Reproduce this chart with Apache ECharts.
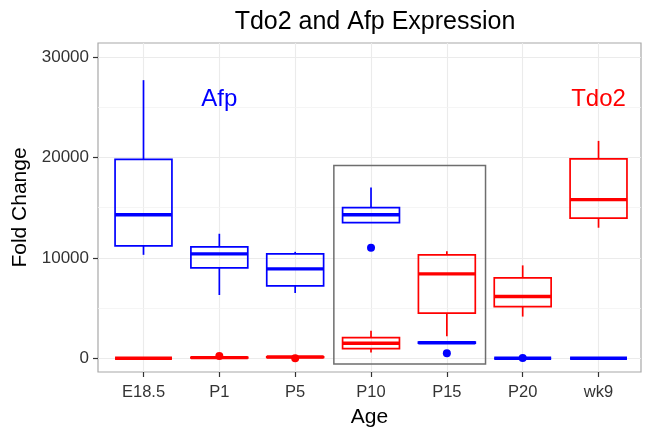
<!DOCTYPE html>
<html>
<head>
<meta charset="utf-8">
<script src="https://cdn.jsdelivr.net/npm/echarts@6/dist/echarts.min.js"></script>
<style>html,body{margin:0;padding:0;background:#fff;}#c{width:645px;height:427px;}</style>
</head>
<body>
<div id="c"></div>
<script>
const categories = ['E18.5', 'P1', 'P5', 'P10', 'P15', 'P20', 'wk9'];
const yTicks = [0, 10000, 20000, 30000];
const yMinorLines = [5000, 15000, 25000];

// Afp (blue) box statistics
const afpMin    = [10300, 6300, 6500, 13500, 1450, 0, 0];
const afpQ1     = [11200, 9000, 7200, 13500, 1500, 0, 0];
const afpMedian = [14300, 10400, 8900, 14300, 1550, 0, 0];
const afpQ3     = [19800, 11100, 10400, 15000, 1600, 0, 0];
const afpMax    = [27700, 12400, 10600, 17000, 1650, 0, 0];
const afpOutlierCat = ['P10', 'P15', 'P20'];
const afpOutlierVal = [11000, 500, 20];

// Tdo2 (red) box statistics
const tdo2Min    = [0, 0, 50, 560, 2200, 4150, 13000];
const tdo2Q1     = [0, 30, 80, 950, 4500, 5150, 13950];
const tdo2Median = [0, 60, 120, 1500, 8400, 6150, 15800];
const tdo2Q3     = [0, 90, 150, 2050, 10300, 8000, 19850];
const tdo2Max    = [0, 120, 180, 2750, 10650, 9250, 21650];
const tdo2OutlierCat = ['P1', 'P5'];
const tdo2OutlierVal = [230, 0];

// annotations
const noteText = ['Afp', 'Tdo2'];
const noteCat = ['P1', 'wk9'];
const noteVal = [25800, 25800];

const BLUE = '#0000ff', RED = '#ff0000';
const FONT = '"Liberation Sans", Arial, sans-serif';

function boxData(mn, q1, md, q3, mx) {
  return categories.map((c, i) => [i, mn[i], q1[i], md[i], q3[i], mx[i]]);
}
function makeRender(color) {
  return function (params, api) {
    const x = api.value(0);
    const half = api.size([0.75, 0])[0] / 2;
    const pMin = api.coord([x, api.value(1)]);
    const pQ1 = api.coord([x, api.value(2)]);
    const pMed = api.coord([x, api.value(3)]);
    const pQ3 = api.coord([x, api.value(4)]);
    const pMax = api.coord([x, api.value(5)]);
    const cx = pMed[0];
    const st = { stroke: color, lineWidth: 1.7, fill: null };
    return {
      type: 'group',
      children: [
        { type: 'line', shape: { x1: cx, y1: pMax[1], x2: cx, y2: pQ3[1] }, style: st },
        { type: 'line', shape: { x1: cx, y1: pQ1[1], x2: cx, y2: pMin[1] }, style: st },
        { type: 'rect', shape: { x: cx - half, y: pQ3[1], width: half * 2, height: pQ1[1] - pQ3[1] }, style: st },
        { type: 'line', shape: { x1: cx - half, y1: pMed[1], x2: cx + half, y2: pMed[1] }, style: { stroke: color, lineWidth: 3.4 } }
      ]
    };
  };
}

const chart = echarts.init(document.getElementById('c'), null, { renderer: 'canvas' });
const catIdx = c => categories.indexOf(c);

const gridLineData = []
  .concat(categories.map((c, i) => ({ xAxis: i, lineStyle: { color: '#ebebeb', width: 1.1, type: 'solid' } })))
  .concat(yTicks.map(v => ({ yAxis: v, lineStyle: { color: '#ebebeb', width: 1.1, type: 'solid' } })))
  .concat(yMinorLines.map(v => ({ yAxis: v, lineStyle: { color: '#f3f3f3', width: 0.8, type: 'solid' } })));

chart.setOption({
  animation: false,
  backgroundColor: '#ffffff',
  title: {
    text: 'Tdo2 and Afp Expression',
    left: 370, textAlign: 'center', top: 5,
    textStyle: { fontFamily: FONT, fontSize: 25, fontWeight: 'normal', color: '#000' }
  },
  grid: { left: 98, right: 4, top: 43, bottom: 55, show: true, borderColor: '#a8a8a8', borderWidth: 1.2, backgroundColor: '#fff', containLabel: false, outerBoundsMode: 'none' },
  xAxis: {
    type: 'value', min: -0.6, max: 6.56, position: 'bottom',
    name: 'Age', nameLocation: 'middle', nameGap: 35,
    nameTextStyle: { fontFamily: FONT, fontSize: 21, color: '#000' },
    axisLine: { show: false, onZero: false },
    splitLine: { show: false },
    axisTick: { show: true, length: 5, customValues: categories.map((c, i) => i), lineStyle: { color: '#333', width: 1.2 } },
    axisLabel: { customValues: categories.map((c, i) => i), margin: 12, fontFamily: FONT, fontSize: 16.5, color: '#333', formatter: v => categories[Math.round(v)] }
  },
  yAxis: {
    type: 'value', min: -1370, max: 31400, position: 'left',
    name: 'Fold Change', nameLocation: 'middle', nameRotate: 90, nameGap: 61,
    nameTextStyle: { fontFamily: FONT, fontSize: 21, color: '#000' },
    axisLine: { show: false, onZero: false },
    splitLine: { show: false },
    axisTick: { show: true, length: 5, customValues: yTicks, lineStyle: { color: '#333', width: 1.2 } },
    axisLabel: { customValues: yTicks, margin: 9, fontFamily: FONT, fontSize: 17, color: '#333', formatter: v => String(v) }
  },
  series: [
    {
      name: 'grid', type: 'scatter', data: [], z: 0, silent: true,
      markLine: { silent: true, z: 0, symbol: ['none', 'none'], label: { show: false }, animation: false, emphasis: { disabled: true }, data: gridLineData }
    },
    {
      name: 'Afp', type: 'custom', z: 3,
      renderItem: makeRender(BLUE),
      encode: { x: 0, y: [1, 2, 3, 4, 5] },
      data: boxData(afpMin, afpQ1, afpMedian, afpQ3, afpMax),
      markArea: {
        silent: true, z: 1,
        itemStyle: { color: 'rgba(0,0,0,0)', borderColor: '#6e6e6e', borderWidth: 1.5 },
        data: [[{ xAxis: catIdx('P10') - 0.49, yAxis: 19200 }, { xAxis: catIdx('P15') + 0.51, yAxis: -570 }]]
      }
    },
    {
      name: 'Tdo2', type: 'custom', z: 3,
      renderItem: makeRender(RED),
      encode: { x: 0, y: [1, 2, 3, 4, 5] },
      data: boxData(tdo2Min, tdo2Q1, tdo2Median, tdo2Q3, tdo2Max)
    },
    {
      name: 'Afp outliers', type: 'scatter', z: 4, symbolSize: 8,
      itemStyle: { color: BLUE, opacity: 1 },
      data: afpOutlierCat.map((c, i) => [catIdx(c), afpOutlierVal[i]])
    },
    {
      name: 'Tdo2 outliers', type: 'scatter', z: 4, symbolSize: 8,
      itemStyle: { color: RED, opacity: 1 },
      data: tdo2OutlierCat.map((c, i) => [catIdx(c), tdo2OutlierVal[i]])
    },
    {
      name: 'notes', type: 'scatter', z: 5, symbolSize: 0, silent: true,
      itemStyle: { opacity: 1 },
      data: noteText.map((t, i) => ({
        name: t, value: [catIdx(noteCat[i]), noteVal[i]],
        label: { color: i === 0 ? BLUE : RED }
      })),
      label: { show: true, position: 'inside', formatter: p => p.name, fontFamily: FONT, fontSize: 24, opacity: 1 }
    }
  ]
});
</script>
</body>
</html>
